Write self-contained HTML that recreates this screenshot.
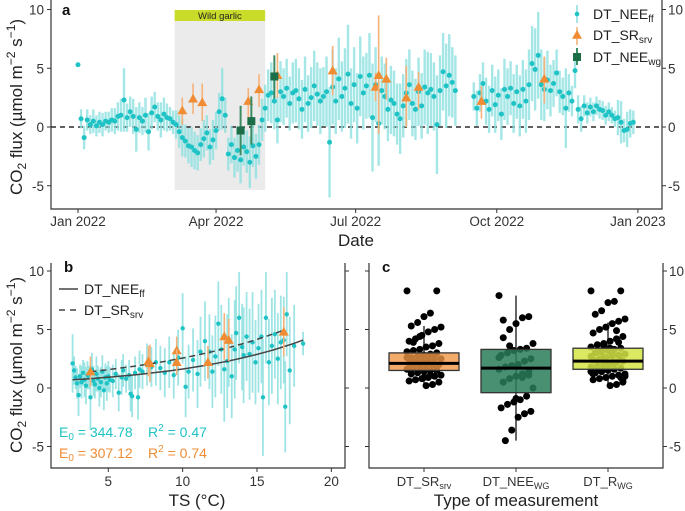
<!DOCTYPE html>
<html><head><meta charset="utf-8"><style>
body{margin:0;background:#fff}
svg{display:block;font-family:"Liberation Sans",Arial,sans-serif}
</style></head><body>
<svg id="chart" width="685" height="511" viewBox="0 0 685 511" xmlns="http://www.w3.org/2000/svg">
<g id="pa"></g>
<g id="pb"></g>
<g id="pc"></g>
</svg>
<script>
// ---- Panel a data (day of year, every 2 days from day 0) ----
const neeVals=[5.3,
0.7,-0.9,0.6,0.2,0.5,0.1,0.4,0.2,0.5,0.4,
0.6,0.5,0.9,1.0,2.3,0.8,1.3,0.9,-0.2,0.8,
0.5,1.0,-0.4,1.2,1.7,0.9,0.6,1.1,0.8,0.7,
0.4,0.2,-0.4,-0.9,-1.2,-1.6,-1.7,-2.0,-2.2,-1.5,
-1.0,-0.5,-1.7,-1.1,-0.3,1.3,2.4,1.0,-2.3,-1.5,
-2.6,-2.0,-2.8,-1.7,-2.1,-3.0,-1.6,-2.5,-1.5,0.6,
1.6,2.7,2.9,2.2,0.6,3.0,2.6,3.3,2.0,2.9,
3.1,2.4,1.5,3.2,2.0,2.5,3.5,2.8,2.2,2.6,
3.0,-1.3,3.4,2.2,4.1,2.6,3.3,4.5,2.0,3.6,
1.6,4.3,2.9,3.5,4.4,0.8,3.6,0.3,3.1,2.6,
1.5,2.3,2.0,1.1,0.7,1.8,2.9,3.6,2.0,1.5,
3.0,1.8,3.4,2.9,3.2,2.6,0.2,3.1,4.7,3.5,
4.4,3.8,3.1,null,null,null,null,null,2.6,1.6,
2.9,3.7,2.2,1.5,3.1,1.9,2.7,1.1,3.2,2.6,
3.3,2.0,3.0,1.8,3.2,2.2,3.6,5.4,4.9,6.1,
3.6,3.2,4.0,3.1,3.7,4.6,3.0,2.6,1.6,2.9,
2.2,4.8,1.5,0.7,1.8,1.2,1.7,1.3,1.8,1.5,
1.4,1.0,1.3,1.0,0.7,0.8,0.4,-0.3,-0.2,0.3,0.4];
const neeErr=[0,
0.8,1.0,0.9,0.8,1.0,0.9,0.9,1.0,0.8,0.9,
1.0,1.1,1.2,1.4,2.7,1.2,1.3,1.5,1.9,1.3,
1.2,1.5,1.6,1.4,1.3,1.2,1.5,1.4,1.2,1.0,
1.0,1.2,1.4,1.6,1.4,1.5,1.7,1.6,1.5,1.4,
1.6,1.5,1.5,1.7,1.6,1.6,2.6,1.5,1.4,1.6,
1.7,1.8,2.0,1.6,1.8,2.2,1.8,1.9,1.7,1.8,
2.0,2.2,2.6,2.4,2.0,2.6,2.4,2.5,2.3,2.6,
2.7,2.6,2.5,2.8,2.4,2.6,3.0,2.7,2.8,2.5,
3.0,4.7,3.2,2.8,3.5,3.0,3.4,4.2,3.0,3.2,
3.0,3.4,3.1,2.8,3.6,4.6,3.2,3.6,2.9,2.8,
2.7,2.9,2.8,2.6,3.0,2.7,2.9,3.0,2.8,2.6,
2.9,2.8,3.2,3.5,3.1,2.9,4.2,3.0,3.3,3.6,
3.5,3.0,3.0,0,0,0,0,0,1.2,1.5,
1.6,1.8,2.0,2.0,2.2,2.4,2.2,2.2,2.6,2.4,
2.3,2.5,2.3,2.6,2.5,2.7,3.0,3.2,3.5,3.7,
3.0,2.7,2.5,2.2,2.0,2.0,1.8,1.6,3.4,1.6,
1.3,1.5,1.2,1.1,0.9,0.9,0.8,0.8,0.8,0.8,
0.8,0.8,0.8,0.7,0.7,1.5,1.8,1.0,1.5,1.2,1.0];
const srDays=[68,75,81,111,118,130,166,194,196,201,214,222,263,304];
const srVals=[1.4,2.4,2.1,2.2,3.2,4.4,4.8,3.4,4.4,4.1,2.5,3.4,2.2,4.1];
const srLo=[0.2,1.1,0.5,0.3,1.7,2.5,2.7,2.2,-0.6,2.3,0.0,1.5,0.7,2.0];
const srHi=[2.5,3.7,3.7,3.3,4.5,6.3,6.9,4.6,9.5,5.9,5.2,4.7,3.5,6.0];
const wgDays=[106,113,128];
const wgVals=[-0.3,0.5,4.3];
const wgLo=[-2.4,-1.5,2.4];
const wgHi=[1.8,2.6,6.1];
const aYTicks=[-5,0,5,10];
const aXTickDays=[0,90,181,273,365];
const aXTickLabels=["Jan 2022","Apr 2022","Jul 2022","Oct 2022","Jan 2023"];
const wildGarlicDays=[63,122];

// ---- Panel b data ----
const tsVals=[2.6,2.7,2.8,2.9,3.0,3.1,3.2,3.3,3.4,3.5,3.6,3.7,3.8,3.9,4.0,4.1,4.2,4.3,4.4,4.5,4.6,4.7,4.8,4.9,5.0,5.1,5.3,5.5,5.7,5.9,6.0,6.2,6.4,6.5,6.6,6.8,7.0,7.1,7.3,7.6,7.9,8.2,8.5,8.8,9.1,9.4,9.7,10.0,10.2,10.4,10.7,11.0,11.2,11.5,11.8,12.0,12.2,12.4,12.6,12.8,13.0,13.1,13.3,13.5,13.6,13.8,14.0,14.1,14.3,14.5,14.7,14.9,15.1,15.3,15.4,15.6,15.8,16.0,16.2,16.4,16.6,16.8,16.9,17.0,17.2,17.5,18.1];
const tsFlux=[2.1,1.5,0.9,0.4,-0.6,1.0,0.5,1.3,0.7,0.2,1.1,0.9,-0.8,1.6,0.6,0.3,1.2,0.8,0.0,0.5,1.4,-0.2,0.9,0.4,1.0,0.7,0.6,1.2,-0.4,0.9,1.5,0.8,1.1,-0.5,-0.7,1.3,-0.8,1.6,1.4,2.0,1.8,2.2,1.7,1.3,2.2,1.1,2.6,5.1,0.1,1.4,2.4,1.2,3.1,4.0,3.1,1.4,2.7,5.5,3.3,1.6,2.3,3.9,1.0,3.3,4.7,6.0,3.5,2.8,4.4,2.9,3.9,2.2,3.4,4.4,-0.8,6.0,2.2,3.6,4.6,2.5,3.9,4.1,-1.6,6.3,1.5,3.6,3.8];
const tsErr=[2.5,1.2,1.0,1.3,1.8,1.0,1.4,1.1,1.5,1.6,1.2,1.0,2.8,1.4,1.3,1.2,1.5,1.1,1.6,1.3,1.4,1.7,1.2,1.5,1.3,1.1,1.4,1.3,1.6,1.5,1.4,1.2,1.3,1.5,1.8,1.4,1.9,1.6,1.5,1.8,1.7,2.0,1.9,2.1,2.2,2.0,2.4,3.0,2.6,2.3,2.7,2.9,3.0,3.4,3.2,3.1,3.5,3.6,3.8,4.5,4.0,3.8,3.6,4.2,4.0,3.9,3.7,4.1,3.8,3.9,4.3,3.6,3.8,4.0,5.0,3.9,3.7,4.1,3.8,3.9,4.0,3.7,3.9,3.6,4.6,3.5,1.0];
const srTs=[3.8,7.7,7.8,9.6,9.6,11.7,12.8,13.1,16.8];
const srTsFlux=[1.4,2.3,2.1,3.2,2.2,2.2,4.4,4.1,4.8];
const srTsErr=[1.3,1.3,1.6,1.2,1.1,1.4,2.0,1.8,2.1];
const neeFit=[0.52,0.114,2.6,18.1];   // a, b, Tmin, Tmax
const srFit=[0.97,0.097,3.8,16.9];
const bXTicks=[5,10,15,20];
const bYTicks=[-5,0,5,10];

// ---- Panel c data ----
const cCategories=["SR","NEE","R"];
const srSurvey=[8.3,8.3,6.4,6.1,5.6,5.3,5.2,5.0,4.8,4.5,4.2,4.0,3.8,3.6,3.5,3.3,3.2,3.1,3.0,2.9,2.8,2.7,2.6,2.5,2.5,2.4,2.3,2.2,2.1,2.0,2.0,1.9,1.8,1.7,1.6,1.5,1.5,1.4,1.3,1.2,1.1,1.0,0.9,0.8,0.7,0.6,0.5,0.3,0.2,4.4,3.9,2.6,1.8,1.1,0.9];
const neeWg=[7.9,6.1,6.0,5.5,5.0,4.3,3.8,3.4,3.3,3.2,3.0,2.8,2.5,2.3,2.0,1.9,1.8,1.6,1.4,1.2,1.0,0.8,0.5,0.0,-0.7,-1.0,-1.2,-1.4,-1.7,-2.0,-2.2,-2.5,-3.6,-4.5,2.6,1.1,0.9,-0.9,3.6,5.8];
const rWg=[8.3,8.3,7.4,7.3,6.6,6.3,5.9,5.7,5.5,5.2,5.0,4.7,4.4,4.2,4.0,3.8,3.7,3.5,3.4,3.3,3.2,3.1,3.0,2.9,2.8,2.7,2.6,2.5,2.4,2.3,2.2,2.1,2.0,1.9,1.8,1.7,1.6,1.5,1.4,1.3,1.2,1.1,1.0,0.9,0.8,0.7,0.5,0.3,0.2,3.6,3.1,2.7,2.4,2.1,1.9,1.6,1.3,1.0,3.9,2.9,2.2,1.7,1.2,0.6,4.9,3.4,2.6,1.8,1.4,0.9];
const boxQ1=[1.5,-0.4,1.6];
const boxMed=[2.1,1.7,2.3];
const boxQ3=[3.0,3.3,3.4];
const boxLo=[0.2,-4.5,0.2];
const boxHi=[5.3,7.9,5.6];

// ---- scales ----
const NS="http://www.w3.org/2000/svg";
const xa=d=>78+d*1.534, ya=v=>127-v*11.75;
const xb=t=>108.3+(t-5)*14.87, yb=v=>388-v*11.7;
const xc=i=>424+i*92;
const CY="#1fc3c5", CYL="#8fe0e0", OR="#f08c33", ORL="#f5b27a", GR="#1c6e48";
function el(p,tag,at,txt){const e=document.createElementNS(NS,tag);for(const k in at)e.setAttribute(k,at[k]);if(txt!=null)e.textContent=txt;p.appendChild(e);return e;}
function tri(cx,cy,s){return `${cx},${cy-s} ${cx-s},${cy+s*0.75} ${cx+s},${cy+s*0.75}`;}

const A=document.getElementById('pa');
let e;
e=el(A,'rect',{x:xa(wildGarlicDays[0]),y:21,width:xa(wildGarlicDays[1])-xa(wildGarlicDays[0]),height:169,fill:'#ebebeb'});


e=el(A,'rect',{x:xa(wildGarlicDays[0]),y:10,width:xa(wildGarlicDays[1])-xa(wildGarlicDays[0]),height:11,fill:'#c9dc2a'});


e=el(A,'text',{x:(xa(wildGarlicDays[0])+xa(wildGarlicDays[1]))/2,y:19,'font-size':9.5,'text-anchor':'middle',fill:'#222'},'Wild garlic');


e=el(A,'line',{x1:51,x2:662,y1:ya(0),y2:ya(0),stroke:'#000','stroke-width':1.2,'stroke-dasharray':'5,4'});


neeVals.forEach((v,i)=>{if(v==null||!neeErr[i])return;const x=xa(i*2);
 const l=el(A,'line',{x1:x,x2:x,y1:ya(v-neeErr[i]),y2:ya(v+neeErr[i]),stroke:CYL,'stroke-width':2.4,opacity:0.8});
 
 });
neeVals.forEach((v,i)=>{if(v==null)return;
 const c=el(A,'circle',{cx:xa(i*2),cy:ya(v),r:2.5,fill:CY});
 
 });
srDays.forEach((d,i)=>{const x=xa(d);
 const l=el(A,'line',{x1:x,x2:x,y1:ya(srLo[i]),y2:ya(srHi[i]),stroke:ORL,'stroke-width':1.6});
 
 
 const t=el(A,'polygon',{points:tri(x,ya(srVals[i]),5),fill:OR});
 
 });
wgDays.forEach((d,i)=>{const x=xa(d);
 const l=el(A,'line',{x1:x,x2:x,y1:ya(wgLo[i]),y2:ya(wgHi[i]),stroke:'#3d8b63','stroke-width':2});
 
 
 const r=el(A,'rect',{x:x-4,y:ya(wgVals[i])-4,width:8,height:8,fill:GR});
 
 });
e=el(A,'path',{d:'M51,0V209H662V0',fill:'none',stroke:'#333','stroke-width':1.2});


aYTicks.forEach(v=>{const y=ya(v);
 el(A,'line',{x1:47,x2:51,y1:y,y2:y,stroke:'#333'});
 el(A,'line',{x1:662,x2:666,y1:y,y2:y,stroke:'#333'});
 e=el(A,'text',{x:44,y:y+5,'font-size':13.5,'text-anchor':'end',fill:'#333'},String(v));
 
 
 e=el(A,'text',{x:668,y:y+5,'font-size':13.5,fill:'#333'},String(v));
 
 });
aXTickDays.forEach((d,i)=>{const x=xa(d);
 el(A,'line',{x1:x,x2:x,y1:209,y2:213,stroke:'#333'});
 e=el(A,'text',{x:x,y:226,'font-size':13.5,'text-anchor':'middle',fill:'#333'},aXTickLabels[i]);
 
 });
e=el(A,'text',{x:356,y:246,'font-size':17,'text-anchor':'middle',fill:'#222'},'Date');


e=el(A,'text',{x:62,y:15,'font-size':15,'font-weight':'bold',fill:'#111'},'a');


function ytitle(g,cy){const t=el(g,'text',{transform:`translate(22,${cy}) rotate(-90)`,'font-size':17,'text-anchor':'middle',fill:'#222'});
 
 
 t.innerHTML='CO<tspan font-size="12" dy="4">2</tspan><tspan dy="-4"> flux (µmol m</tspan><tspan font-size="12" dy="-7">−2</tspan><tspan dy="7">  s</tspan><tspan font-size="12" dy="-7">−1</tspan><tspan dy="7">)</tspan>';}
ytitle(A,107);
const LG=el(A,'g',{});


el(LG,'line',{x1:577,x2:577,y1:5,y2:23,stroke:CYL,'stroke-width':1.6});
el(LG,'circle',{cx:577,cy:14,r:2.3,fill:CY});
el(LG,'text',{x:593,y:19,'font-size':14,fill:'#222'}).innerHTML='DT_NEE<tspan font-size="10" dy="3">ff</tspan>';
el(LG,'line',{x1:577,x2:577,y1:27,y2:45,stroke:ORL,'stroke-width':1.6});
el(LG,'polygon',{points:tri(577,35,5),fill:OR});
el(LG,'text',{x:593,y:40,'font-size':14,fill:'#222'}).innerHTML='DT_SR<tspan font-size="10" dy="3">srv</tspan>';
el(LG,'line',{x1:577,x2:577,y1:48,y2:65,stroke:'#3d8b63','stroke-width':2});
el(LG,'rect',{x:573,y:53,width:8,height:8,fill:GR});
el(LG,'text',{x:593,y:62,'font-size':14,fill:'#222'}).innerHTML='DT_NEE<tspan font-size="10" dy="3">wg</tspan>';

// ---- Panel b ----
const B=document.getElementById('pb');
tsVals.forEach((t,i)=>{const x=xb(t);
 const l=el(B,'line',{x1:x,x2:x,y1:yb(tsFlux[i]-tsErr[i]),y2:yb(tsFlux[i]+tsErr[i]),stroke:CYL,'stroke-width':1.8,opacity:0.85});
 
 });
tsVals.forEach((t,i)=>{const c=el(B,'circle',{cx:xb(t),cy:yb(tsFlux[i]),r:2.2,fill:CY});
 
 });
function fitPath(f){let d='';for(let k=0;k<=40;k++){const t=f[2]+(f[3]-f[2])*k/40;d+=(k?'L':'M')+xb(t).toFixed(1)+','+yb(f[0]*Math.exp(f[1]*t)).toFixed(1);}return d;}
e=el(B,'path',{d:fitPath(neeFit),fill:'none',stroke:'#444','stroke-width':1.5});


e=el(B,'path',{d:fitPath(srFit),fill:'none',stroke:'#444','stroke-width':1.5,'stroke-dasharray':'6,4'});


srTs.forEach((t,i)=>{const x=xb(t);
 const l=el(B,'line',{x1:x,x2:x,y1:yb(srTsFlux[i]-srTsErr[i]),y2:yb(srTsFlux[i]+srTsErr[i]),stroke:ORL,'stroke-width':1.6});
 
 
 const p=el(B,'polygon',{points:tri(x,yb(srTsFlux[i]),5),fill:OR});
 
 });
e=el(B,'path',{d:'M51,263V468H345V263',fill:'none',stroke:'#333','stroke-width':1.2});


bYTicks.forEach(v=>{const y=yb(v);
 el(B,'line',{x1:47,x2:51,y1:y,y2:y,stroke:'#333'});
 el(B,'line',{x1:345,x2:349,y1:y,y2:y,stroke:'#333'});
 e=el(B,'text',{x:44,y:y+5,'font-size':13.5,'text-anchor':'end',fill:'#333'},String(v));
 
 });
bXTicks.forEach(t=>{const x=xb(t);
 el(B,'line',{x1:x,x2:x,y1:468,y2:472,stroke:'#333'});
 e=el(B,'text',{x:x,y:486,'font-size':13.5,'text-anchor':'middle',fill:'#333'},String(t));
 
 });
e=el(B,'text',{x:197,y:506,'font-size':17,'text-anchor':'middle',fill:'#222'},'TS (°C)');


e=el(B,'text',{x:64,y:272,'font-size':15,'font-weight':'bold',fill:'#111'},'b');


ytitle(B,365);
const LB=el(B,'g',{});


el(LB,'line',{x1:59,x2:78,y1:289,y2:289,stroke:'#444','stroke-width':1.5});
el(LB,'text',{x:84,y:294,'font-size':14,fill:'#222'}).innerHTML='DT_NEE<tspan font-size="10" dy="3">ff</tspan>';
el(LB,'line',{x1:59,x2:78,y1:310,y2:310,stroke:'#444','stroke-width':1.5,'stroke-dasharray':'6,5'});
el(LB,'text',{x:84,y:315,'font-size':14,fill:'#222'}).innerHTML='DT_SR<tspan font-size="10" dy="3">srv</tspan>';
e=el(B,'text',{x:59,y:437,'font-size':14,fill:CY});e.innerHTML='E<tspan font-size="10" dy="3">0</tspan><tspan dy="-3"> = 344.78</tspan>';


e=el(B,'text',{x:148,y:437,'font-size':14,fill:CY});e.innerHTML='R<tspan font-size="10" dy="-6">2</tspan><tspan dy="6"> = 0.47</tspan>';


e=el(B,'text',{x:59,y:458,'font-size':14,fill:OR});e.innerHTML='E<tspan font-size="10" dy="3">0</tspan><tspan dy="-3"> = 307.12</tspan>';


e=el(B,'text',{x:148,y:458,'font-size':14,fill:OR});e.innerHTML='R<tspan font-size="10" dy="-6">2</tspan><tspan dy="6"> = 0.74</tspan>';



// ---- Panel c ----
const C=document.getElementById('pc');
const groups=[srSurvey,neeWg,rWg];
const fills=['rgba(240,150,70,0.8)','rgba(40,125,88,0.85)','rgba(212,228,70,0.85)'];
groups.forEach((arr,g)=>{const cx=xc(g);
 e=el(C,'line',{x1:cx,x2:cx,y1:yb(boxLo[g]),y2:yb(boxHi[g]),stroke:'#333','stroke-width':1.5});
 
 
 arr.forEach((v,i)=>{const jit=(((i*7919)%17)-8)/8*17;
  const c=el(C,'circle',{cx:cx+jit,cy:yb(v),r:3.5,fill:'#000'});
  
  });
 e=el(C,'rect',{x:cx-35,y:yb(boxQ3[g]),width:70,height:yb(boxQ1[g])-yb(boxQ3[g]),fill:fills[g],stroke:'#333','stroke-width':1.3});
 
 
 e=el(C,'line',{x1:cx-35,x2:cx+35,y1:yb(boxMed[g]),y2:yb(boxMed[g]),stroke:'#000','stroke-width':3});
 
 });
e=el(C,'path',{d:'M369,263V468H663V263',fill:'none',stroke:'#333','stroke-width':1.2});


bYTicks.forEach(v=>{const y=yb(v);
 el(C,'line',{x1:365,x2:369,y1:y,y2:y,stroke:'#333'});
 el(C,'line',{x1:663,x2:667,y1:y,y2:y,stroke:'#333'});
 e=el(C,'text',{x:669,y:y+5,'font-size':13.5,fill:'#333'},String(v));
 
 });
const cLabels=['DT_SR<tspan font-size="9" dy="3">srv</tspan>','DT_NEE<tspan font-size="9" dy="3">WG</tspan>','DT_R<tspan font-size="9" dy="3">WG</tspan>'];
cLabels.forEach((h,i)=>{const x=xc(i);
 el(C,'line',{x1:x,x2:x,y1:468,y2:472,stroke:'#333'});
 e=el(C,'text',{x:x,y:486,'font-size':13,'text-anchor':'middle',fill:'#333'});e.innerHTML=h;
 
 });
e=el(C,'text',{x:516,y:506,'font-size':17,'text-anchor':'middle',fill:'#222'},'Type of measurement');


e=el(C,'text',{x:382,y:272,'font-size':15,'font-weight':'bold',fill:'#111'},'c');


</script>
</body></html>
